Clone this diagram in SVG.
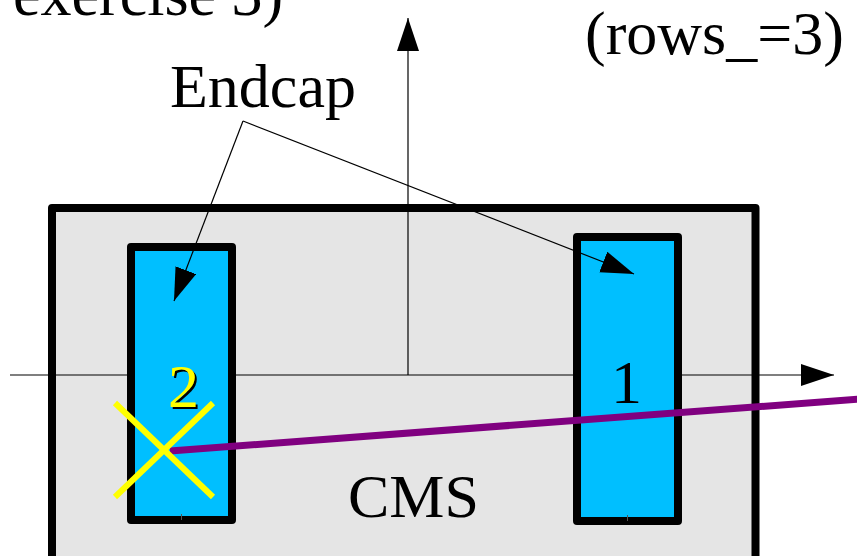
<svg xmlns="http://www.w3.org/2000/svg" width="857" height="556" viewBox="0 0 857 556">
  <style>
    .txt { font-family: "Liberation Serif", "Times New Roman", serif; font-size: 62px; fill: #000; }
    .box { stroke: #000; stroke-width: 8; stroke-linejoin: round; }
    .thin { stroke: #000; stroke-width: 1.2; fill: none; }
  </style>
  <defs>
    <marker id="head" markerUnits="userSpaceOnUse" markerWidth="34" markerHeight="23" refX="33" refY="11" orient="auto">
      <path d="M0,0 L33,11 L0,22 z" fill="#000"/>
    </marker>
  </defs>
  <rect width="857" height="556" fill="#fff"/>

  <!-- detector envelope -->
  <g id="cms">
    <rect class="box" x="52" y="208" width="703.5" height="360" fill="#e5e5e5"/>
    <text class="txt" x="348" y="517">CMS</text>
  </g>

  <!-- coordinate axes -->
  <g id="axes">
    <line class="thin" x1="10" y1="375" x2="834" y2="375" marker-end="url(#head)"/>
    <line class="thin" x1="408" y1="375" x2="408" y2="18" marker-end="url(#head)"/>
  </g>

  <!-- endcap 2 -->
  <g id="endcap2">
    <rect class="box" x="131" y="247" width="101" height="273" fill="#00bfff"/>
    <line x1="181.5" y1="514" x2="181.5" y2="520" stroke="#555" stroke-width="1"/>
    <text class="txt" x="170" y="409" fill="#000">2</text>
    <text class="txt" x="168" y="407" style="fill:#ffff00">2</text>
  </g>

  <!-- endcap 1 -->
  <g id="endcap1">
    <rect class="box" x="577" y="237" width="101" height="284" fill="#00bfff"/>
    <line x1="627.5" y1="515" x2="627.5" y2="521" stroke="#555" stroke-width="1"/>
    <text class="txt" x="611" y="403">1</text>
  </g>

  <!-- track and hit -->
  <g id="track">
    <line x1="170" y1="451" x2="860" y2="399" stroke="#800080" stroke-width="7"/>
  </g>
  <g id="hit">
    <line x1="115" y1="403" x2="213" y2="497" stroke="#ffff00" stroke-width="6"/>
    <line x1="213" y1="403" x2="115" y2="497" stroke="#ffff00" stroke-width="6"/>
  </g>

  <!-- labels -->
  <g id="labels">
    <text class="txt" x="13" y="15">exercise 3)</text>
    <text class="txt" x="585" y="54">(rows_=3)</text>
    <text class="txt" x="170" y="107">Endcap</text>
  </g>

  <!-- leaders from the Endcap label -->
  <g id="connectors">
    <line class="thin" x1="243" y1="121" x2="174" y2="301" marker-end="url(#head)"/>
    <line class="thin" x1="243" y1="121" x2="634" y2="274" marker-end="url(#head)"/>
  </g>
</svg>
